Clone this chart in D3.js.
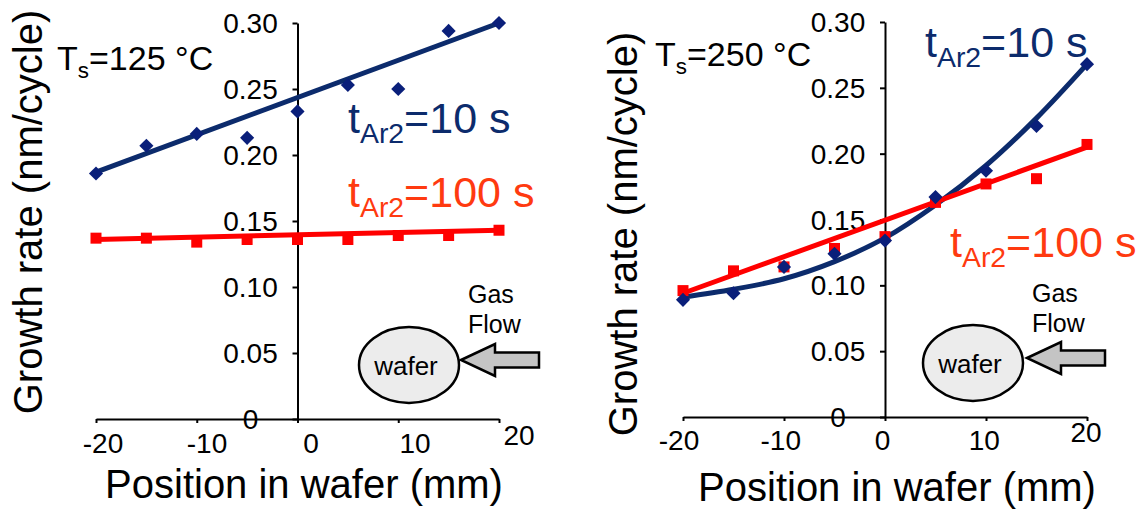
<!DOCTYPE html>
<html>
<head>
<meta charset="utf-8">
<script src="https://cdn.jsdelivr.net/npm/d3@7"></script>
<style>
  body { margin: 0; background: #fff; }
  svg { font-family: "Liberation Sans", Arial, sans-serif; }
</style>
</head>
<body>
<svg id="chart" width="1141" height="511"></svg>
<script>
// wafer positions (mm) and axis ticks
const positions = [-20, -15, -10, -5, 0, 5, 10, 15, 20];
const xTicks = [-20, -10, 0, 10, 20];
const yTicks = [0, 0.05, 0.10, 0.15, 0.20, 0.25, 0.30];
const yTickLabels = ["0", "0.05", "0.10", "0.15", "0.20", "0.25", "0.30"];

// Ts = 125 C
const rate125_10s = [0.186, 0.207, 0.216, 0.213, 0.233, 0.253, 0.250, 0.294, 0.300];
const rate125_100s = [0.137, 0.137, 0.134, 0.136, 0.136, 0.136, 0.139, 0.139, 0.143];
const trend125_10s = [0.187, 0.300];   // linear trendline, ends at -20 / 20 mm
const trend125_100s = [0.136, 0.143];

// Ts = 250 C
const rate250_10s = [0.089, 0.094, 0.114, 0.124, 0.134, 0.167, 0.187, 0.221, 0.268];
const rate250_100s = [0.096, 0.111, 0.114, 0.128, 0.137, 0.163, 0.177, 0.181, 0.207];
const trend250_10s = [0.091, 0.097, 0.105, 0.118, 0.136, 0.161, 0.191, 0.227, 0.268]; // poly trendline
const trend250_100s = [0.094, 0.205];

const navy = "#0c2b6c", navyDot = "#0a1f7a", red = "#ff0000", orange = "#ff3a10";

var svg = d3.select("#chart");

var panels = [
  {left: 96, right: 499, top: 23, bottom: 419, labL: 103, labR: 519, labY: 453,
   temp: "125", tx: 57, ty: 70, lab10: [348, 133], lab100: [348, 207],
   blue: rate125_10s, redPts: rate125_100s, blueTrend: trend125_10s, redTrend: trend125_100s,
   wafer: [409, 365], tip: [461, 360], gas: [468, 303],
   titleX: 304, titleY: 498, yTitle: [42, 212]},
  {left: 683, right: 1087, top: 22, bottom: 417, labL: 679, labR: 1086, labY: 450,
   temp: "250", tx: 655, ty: 66, lab10: [925, 57], lab100: [950, 257],
   blue: rate250_10s, redPts: rate250_100s, blueTrend: trend250_10s, redTrend: trend250_100s,
   wafer: [973, 363], tip: [1027, 358], gas: [1032, 302],
   titleX: 897, titleY: 501, yTitle: [637, 234]}
];

panels.forEach(drawPanel);

function subLabel(g, x, y, main, sub, rest, size, color) {
  var t = g.append("text").attr("x", x).attr("y", y)
    .attr("font-size", size).attr("fill", color);
  t.append("tspan").text(main);
  t.append("tspan").attr("font-size", size * 0.66).attr("dy", size * 0.24).text(sub);
  t.append("tspan").attr("dy", -size * 0.24).text(rest);
}

function drawPanel(p) {
  var g = svg.append("g");
  var x = d3.scaleLinear().domain([-20, 20]).range([p.left, p.right]);
  var y = d3.scaleLinear().domain([0, 0.30]).range([p.bottom, p.top]);
  var xLab = d3.scaleLinear().domain([-20, 20]).range([p.labL, p.labR]);

  // axes
  g.append("g").attr("transform", `translate(0,${p.bottom})`)
    .call(d3.axisBottom(x).tickValues(xTicks).tickSize(4).tickSizeOuter(0).tickFormat(""))
    .call(a => a.selectAll("path,line").attr("stroke", "#000").attr("stroke-width", 2));
  g.append("g").attr("transform", `translate(${x(0)},0)`)
    .call(d3.axisLeft(y).tickValues(yTicks).tickSize(5).tickSizeOuter(0).tickFormat(""))
    .call(a => a.selectAll("path,line").attr("stroke", "#000").attr("stroke-width", 2));

  g.selectAll(".ylab").data(yTicks).enter().append("text")
    .attr("x", x(0) - 47).attr("y", d => y(d) + 10)
    .attr("text-anchor", "middle").attr("font-size", 28)
    .text((d, i) => yTickLabels[i]);
  g.selectAll(".xlab").data(xTicks).enter().append("text")
    .attr("x", d => xLab(d)).attr("y", d => d === 20 ? p.labY - 8 : p.labY)
    .attr("text-anchor", "middle").attr("font-size", 28)
    .text(d => d);

  // titles
  g.append("text").attr("x", p.titleX).attr("y", p.titleY)
    .attr("text-anchor", "middle").attr("font-size", 40)
    .text("Position in wafer (mm)");
  g.append("text").attr("transform", `translate(${p.yTitle[0]},${p.yTitle[1]}) rotate(-90)`)
    .attr("text-anchor", "middle").attr("font-size", 40)
    .text("Growth rate (nm/cycle)");

  // trendlines
  var line = d3.line().x(d => x(d[0])).y(d => y(d[1]));
  var blueTrend = p.blueTrend.length === 2
    ? [[-20, p.blueTrend[0]], [20, p.blueTrend[1]]]
    : positions.map((d, i) => [d, p.blueTrend[i]]);
  g.append("path").datum(blueTrend)
    .attr("d", line.curve(p.blueTrend.length === 2 ? d3.curveLinear : d3.curveCatmullRom))
    .attr("fill", "none").attr("stroke", navy).attr("stroke-width", 5);

  g.append("path").datum([[-20, p.redTrend[0]], [20, p.redTrend[1]]])
    .attr("d", d3.line().x(d => x(d[0])).y(d => y(d[1])))
    .attr("fill", "none").attr("stroke", red).attr("stroke-width", 5);
  g.selectAll(".sq").data(positions).enter().append("path")
    .attr("d", d3.symbol(d3.symbolSquare, 121))
    .attr("transform", (d, i) => `translate(${x(d)},${y(p.redPts[i])})`)
    .attr("fill", red);

  // diamonds on top
  g.selectAll(".dia").data(positions).enter().append("path")
    .attr("d", d3.symbol(d3.symbolSquare, 100))
    .attr("transform", (d, i) => `translate(${x(d)},${y(p.blue[i])}) rotate(45)`)
    .attr("fill", navyDot);

  // labels
  subLabel(g, p.tx, p.ty, "T", "s", "=" + p.temp + " °C", 34, "#000");
  subLabel(g, p.lab10[0], p.lab10[1], "t", "Ar2", "=10 s", 43, navy);
  subLabel(g, p.lab100[0], p.lab100[1], "t", "Ar2", "=100 s", 43, orange);

  // wafer sketch + gas flow arrow
  g.append("ellipse").attr("cx", p.wafer[0]).attr("cy", p.wafer[1])
    .attr("rx", 50).attr("ry", 38)
    .attr("fill", "#ececec").attr("stroke", "#000").attr("stroke-width", 2.5);
  g.append("text").attr("x", p.wafer[0] - 3).attr("y", p.wafer[1] + 10)
    .attr("text-anchor", "middle").attr("font-size", 26).text("wafer");
  var tx = p.tip[0], ty = p.tip[1];
  var arrow = [[0, 0], [34, -16], [34, -7.5], [78, -7.5], [78, 7.5], [34, 7.5], [34, 16]];
  g.append("path")
    .attr("d", d3.line()(arrow.map(d => [tx + d[0], ty + d[1]])) + "Z")
    .attr("fill", "#c4c4c4").attr("stroke", "#000").attr("stroke-width", 2.5);
  g.append("text").attr("x", p.gas[0]).attr("y", p.gas[1]).attr("font-size", 25).text("Gas");
  g.append("text").attr("x", p.gas[0]).attr("y", p.gas[1] + 30).attr("font-size", 25).text("Flow");
}
</script>
</body>
</html>
